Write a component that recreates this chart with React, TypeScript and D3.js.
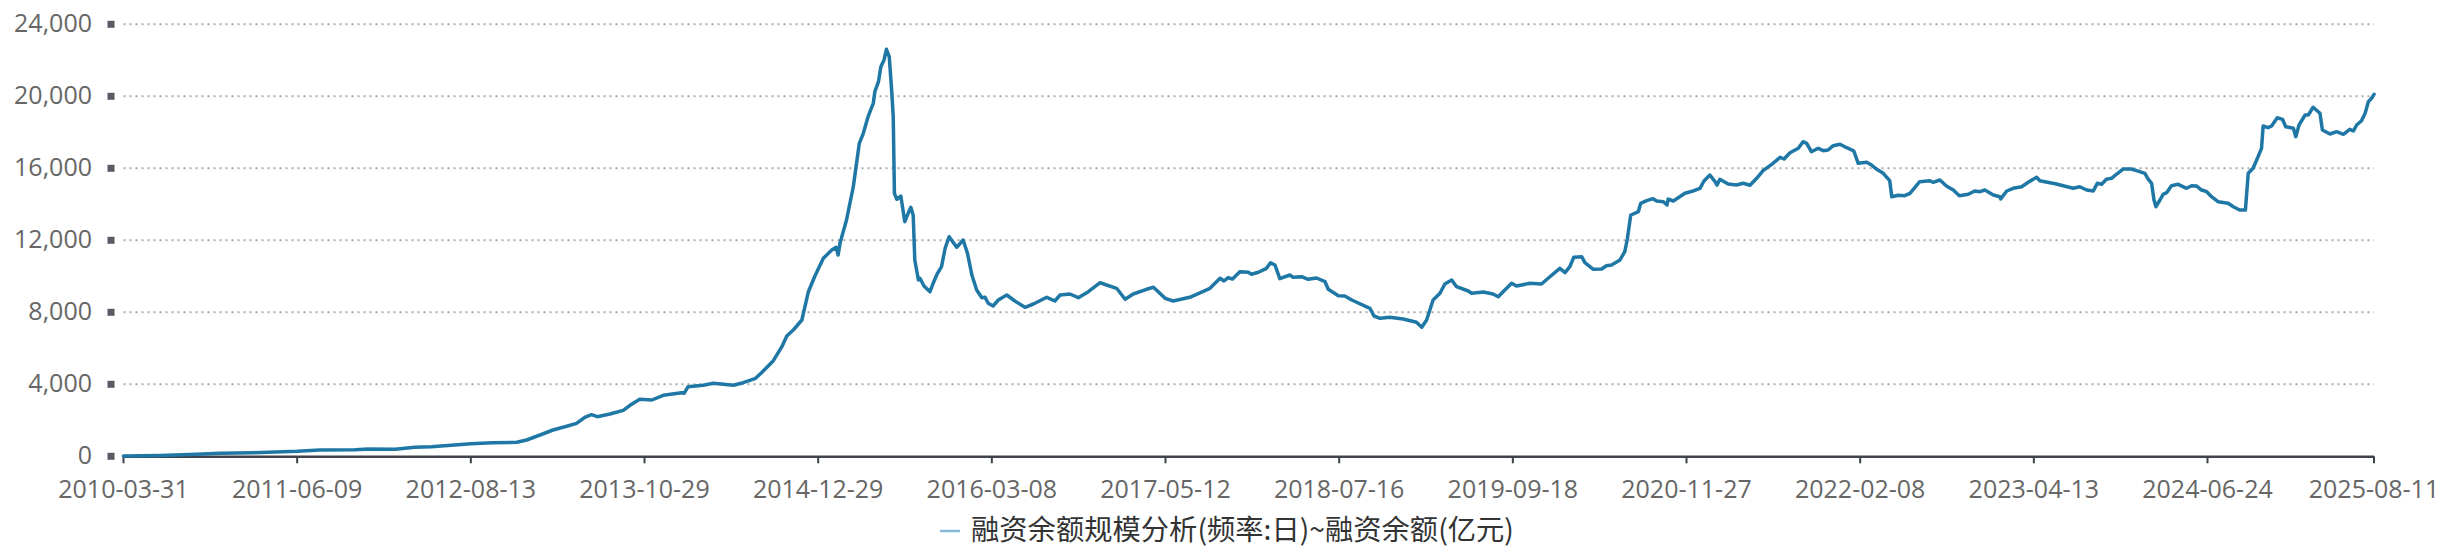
import React from 'react';
import * as d3 from 'd3';

const tickLabels = [
  '2010-03-31', '2011-06-09', '2012-08-13', '2013-10-29', '2014-12-29', '2016-03-08', '2017-05-12',
  '2018-07-16', '2019-09-18', '2020-11-27', '2022-02-08', '2023-04-13', '2024-06-24', '2025-08-11',
];
// trading-day index of each labelled category
const tickTradingIndex = [0, 290, 580, 870, 1160, 1450, 1740, 2030, 2320, 2610, 2900, 3190, 3480, 3758];
const yTickValues = [0, 4000, 8000, 12000, 16000, 20000, 24000];
const seriesName = '融资余额规模分析(频率:日)~融资余额(亿元)';

const financingBalance: [string, number][] = [
  ['2010-03-31', 10], ['2010-06-30', 50], ['2010-09-30', 110], ['2010-11-28', 165], ['2011-02-18', 200],
  ['2011-06-09', 277], ['2011-08-05', 350], ['2011-10-31', 367], ['2011-12-03', 405], ['2012-02-07', 388],
  ['2012-03-27', 500], ['2012-05-07', 533], ['2012-07-12', 644], ['2012-08-13', 700], ['2012-10-08', 756],
  ['2012-12-08', 778], ['2013-01-02', 905], ['2013-02-05', 1183], ['2013-03-10', 1461], ['2013-04-14', 1667],
  ['2013-05-09', 1833], ['2013-05-30', 2167], ['2013-06-16', 2311], ['2013-07-01', 2200], ['2013-08-02', 2350],
  ['2013-09-05', 2550], ['2013-09-22', 2833], ['2013-10-17', 3167], ['2013-11-16', 3128], ['2013-12-14', 3389],
  ['2014-01-28', 3533], ['2014-02-03', 3500], ['2014-02-13', 3867], ['2014-03-22', 3944], ['2014-04-16', 4056],
  ['2014-06-04', 3944], ['2014-06-28', 4089], ['2014-07-27', 4311], ['2014-08-12', 4644], ['2014-09-10', 5311],
  ['2014-10-01', 6089], ['2014-10-13', 6683], ['2014-10-29', 7017], ['2014-11-19', 7572], ['2014-12-05', 9144],
  ['2014-12-21', 10017], ['2015-01-11', 11000], ['2015-02-01', 11461], ['2015-02-12', 11611], ['2015-02-17', 11183],
  ['2015-02-22', 11867], ['2015-03-10', 13128], ['2015-03-27', 14978], ['2015-04-11', 17389], ['2015-04-21', 17944],
  ['2015-05-03', 18867], ['2015-05-16', 19611], ['2015-05-20', 20256], ['2015-05-29', 20811], ['2015-06-04', 21644],
  ['2015-06-12', 22017], ['2015-06-18', 22611], ['2015-06-25', 22200], ['2015-07-01', 20350], ['2015-07-05', 18867],
  ['2015-07-08', 14611], ['2015-07-14', 14278], ['2015-07-24', 14461], ['2015-08-03', 13033], ['2015-08-12', 13533],
  ['2015-08-18', 13833], ['2015-08-24', 13406], ['2015-08-28', 10906], ['2015-09-06', 9794], ['2015-09-10', 9889],
  ['2015-09-20', 9461], ['2015-10-05', 9144], ['2015-10-13', 9611], ['2015-10-23', 10128], ['2015-11-03', 10533],
  ['2015-11-12', 11556], ['2015-11-22', 12200], ['2015-12-11', 11611], ['2015-12-27', 12017], ['2016-01-07', 11278],
  ['2016-01-18', 10072], ['2016-01-30', 9239], ['2016-02-12', 8811], ['2016-02-20', 8833], ['2016-02-28', 8500],
  ['2016-03-11', 8350], ['2016-03-24', 8683], ['2016-04-14', 8961], ['2016-05-04', 8628], ['2016-05-29', 8278],
  ['2016-06-19', 8461], ['2016-07-22', 8833], ['2016-08-11', 8628], ['2016-08-24', 8961], ['2016-09-17', 9017],
  ['2016-10-08', 8811], ['2016-11-02', 9144], ['2016-12-01', 9644], ['2016-12-17', 9517], ['2017-01-11', 9333],
  ['2017-02-01', 8722], ['2017-02-21', 9017], ['2017-03-26', 9278], ['2017-04-12', 9389], ['2017-04-24', 9144],
  ['2017-05-11', 8778], ['2017-05-31', 8628], ['2017-07-11', 8833], ['2017-07-28', 9000], ['2017-08-30', 9333],
  ['2017-09-24', 9889], ['2017-10-04', 9739], ['2017-10-14', 9922], ['2017-10-25', 9850], ['2017-11-12', 10256],
  ['2017-12-03', 10222], ['2017-12-11', 10111], ['2017-12-28', 10222], ['2018-01-17', 10444], ['2018-01-27', 10756],
  ['2018-02-07', 10628], ['2018-02-19', 9867], ['2018-03-16', 10072], ['2018-03-24', 9944], ['2018-04-14', 9978],
  ['2018-04-30', 9833], ['2018-05-21', 9906], ['2018-06-11', 9700], ['2018-06-19', 9278], ['2018-07-14', 8922],
  ['2018-07-30', 8906], ['2018-08-16', 8683], ['2018-09-30', 8222], ['2018-10-10', 7794], ['2018-10-25', 7667],
  ['2018-11-18', 7722], ['2018-12-21', 7628], ['2019-01-23', 7444], ['2019-02-05', 7167], ['2019-02-17', 7572],
  ['2019-03-05', 8683], ['2019-03-22', 9056], ['2019-04-03', 9572], ['2019-04-20', 9794], ['2019-05-02', 9422],
  ['2019-05-31', 9183], ['2019-06-08', 9056], ['2019-07-07', 9128], ['2019-07-31', 9017], ['2019-08-13', 8867],
  ['2019-08-25', 9144], ['2019-09-15', 9611], ['2019-09-27', 9461], ['2019-10-31', 9611], ['2019-11-29', 9572],
  ['2019-12-20', 9978], ['2020-01-14', 10444], ['2020-01-27', 10200], ['2020-02-08', 10533], ['2020-02-18', 11056],
  ['2020-03-09', 11089], ['2020-03-17', 10756], ['2020-04-07', 10389], ['2020-04-28', 10406], ['2020-05-10', 10589],
  ['2020-05-23', 10628], ['2020-06-13', 10906], ['2020-06-25', 11367], ['2020-07-01', 12017], ['2020-07-10', 13406],
  ['2020-07-20', 13500], ['2020-07-29', 13589], ['2020-08-04', 14056], ['2020-08-19', 14200], ['2020-09-04', 14311],
  ['2020-09-13', 14183], ['2020-09-30', 14144], ['2020-10-09', 13961], ['2020-10-12', 14294], ['2020-10-25', 14183],
  ['2020-11-23', 14611], ['2020-12-14', 14739], ['2020-12-31', 14889], ['2021-01-10', 15294], ['2021-01-25', 15628],
  ['2021-02-07', 15256], ['2021-02-12', 15072], ['2021-02-19', 15389], ['2021-03-12', 15128], ['2021-04-02', 15072],
  ['2021-04-19', 15167], ['2021-05-06', 15056], ['2021-05-23', 15444], ['2021-06-08', 15867], ['2021-06-30', 16222],
  ['2021-07-21', 16611], ['2021-07-31', 16517], ['2021-08-15', 16867], ['2021-09-05', 17111], ['2021-09-17', 17478],
  ['2021-09-26', 17389], ['2021-10-08', 16922], ['2021-10-25', 17111], ['2021-11-07', 16978], ['2021-11-19', 17017],
  ['2021-12-02', 17256], ['2021-12-19', 17333], ['2022-01-05', 17144], ['2022-01-23', 16961], ['2022-02-03', 16278],
  ['2022-02-24', 16333], ['2022-03-08', 16183], ['2022-03-21', 15944], ['2022-04-06', 15722], ['2022-04-22', 15311],
  ['2022-04-27', 14422], ['2022-05-13', 14500], ['2022-05-29', 14478], ['2022-06-11', 14611], ['2022-07-05', 15256],
  ['2022-07-30', 15311], ['2022-08-07', 15222], ['2022-08-24', 15350], ['2022-09-09', 15017], ['2022-09-26', 14794],
  ['2022-10-11', 14478], ['2022-11-02', 14556], ['2022-11-18', 14739], ['2022-12-01', 14700], ['2022-12-13', 14794],
  ['2023-01-03', 14517], ['2023-01-19', 14422], ['2023-01-21', 14294], ['2023-02-05', 14739], ['2023-02-21', 14889],
  ['2023-03-14', 14978], ['2023-03-30', 15222], ['2023-04-20', 15500], ['2023-04-28', 15311], ['2023-06-09', 15128],
  ['2023-06-26', 15033], ['2023-07-21', 14889], ['2023-08-07', 14978], ['2023-08-24', 14794], ['2023-09-10', 14739],
  ['2023-09-20', 15167], ['2023-10-01', 15111], ['2023-10-13', 15389], ['2023-10-26', 15444], ['2023-11-08', 15683],
  ['2023-11-24', 15961], ['2023-12-15', 15961], ['2023-12-28', 15867], ['2024-01-18', 15722], ['2024-01-26', 15406],
  ['2024-02-04', 15167], ['2024-02-10', 14239], ['2024-02-15', 13867], ['2024-02-25', 14239], ['2024-03-04', 14556],
  ['2024-03-13', 14644], ['2024-03-25', 15033], ['2024-04-11', 15111], ['2024-05-02', 14889], ['2024-05-15', 15033],
  ['2024-05-27', 15017], ['2024-06-09', 14794], ['2024-06-22', 14700], ['2024-07-04', 14422], ['2024-07-20', 14144],
  ['2024-08-14', 14056], ['2024-08-27', 13867], ['2024-09-12', 13683], ['2024-09-26', 13683], ['2024-10-03', 15722],
  ['2024-10-15', 16000], ['2024-10-24', 16461], ['2024-11-05', 17111], ['2024-11-09', 18350], ['2024-11-21', 18256],
  ['2024-11-30', 18350], ['2024-12-14', 18811], ['2024-12-27', 18722], ['2025-01-04', 18311], ['2025-01-23', 18222],
  ['2025-01-29', 17756], ['2025-02-06', 18406], ['2025-02-21', 18961], ['2025-03-01', 18961], ['2025-03-13', 19389],
  ['2025-03-30', 19056], ['2025-04-05', 18128], ['2025-04-24', 17906], ['2025-05-10', 18033], ['2025-05-27', 17889],
  ['2025-06-12', 18167], ['2025-06-21', 18072], ['2025-06-29', 18406], ['2025-07-11', 18644], ['2025-07-20', 19056],
  ['2025-07-28', 19700], ['2025-08-05', 19889], ['2025-08-11', 20111],
];

const W = 2462;
const H = 560;
const M = { left: 123.5, right: 2374, top: 24.3, bottom: 456.3 };
const AXIS_FONT = "'Open Sans', 'DejaVu Sans', sans-serif";
const CJK_FONT = "'Noto Sans CJK SC', 'Noto Sans', sans-serif";

export default function App() {
  const parse = d3.timeParse('%Y-%m-%d');
  const indexScale = d3
    .scaleLinear()
    .domain([0, tickTradingIndex[tickTradingIndex.length - 1]])
    .range([M.left, M.right]);
  const tickDates = tickLabels.map((t) => parse(t) as Date);
  const x = d3
    .scaleTime()
    .domain(tickDates)
    .range(tickTradingIndex.map((i) => indexScale(i)));
  const y = d3.scaleLinear().domain([0, 24000]).range([M.bottom, M.top]);
  const fmt = d3.format(',');

  const line = d3
    .line<[string, number]>()
    .x((d) => x(parse(d[0]) as Date))
    .y((d) => y(d[1]));

  return (
    <svg
      width={W}
      height={H}
      style={{ position: 'absolute', left: 0, top: 0, background: '#fff' }}
    >
      {/* grid lines */}
      {yTickValues
        .filter((v) => v > 0)
        .map((v) => (
          <line
            key={'g' + v}
            x1={M.left}
            x2={M.right}
            y1={y(v)}
            y2={y(v)}
            stroke="#aaaaaa"
            strokeWidth={2}
            strokeDasharray="2 4"
          />
        ))}
      {/* y labels and square markers */}
      {yTickValues.map((v) => (
        <g key={'y' + v}>
          <rect x={107.5} y={y(v) - 3.5} width={7} height={7} fill="#565b64" />
          <text
            x={92}
            y={y(v) + 7.5}
            textAnchor="end"
            fontFamily={AXIS_FONT}
            fontSize={25}
            fill="#666"
          >
            {fmt(v)}
          </text>
        </g>
      ))}
      {/* x axis */}
      <line x1={M.left} x2={M.right} y1={M.bottom + 0.4} y2={M.bottom + 0.4} stroke="#3e424a" strokeWidth={2.6} />
      {tickLabels.map((t, i) => {
        const px = x(tickDates[i]);
        return (
          <g key={'x' + t}>
            <line x1={px} x2={px} y1={M.bottom} y2={M.bottom + 7} stroke="#3e424a" strokeWidth={2} />
            <text
              x={px}
              y={498}
              textAnchor="middle"
              fontFamily={AXIS_FONT}
              fontSize={25}
              fill="#666"
            >
              {t}
            </text>
          </g>
        );
      })}
      {/* series */}
      <path
        d={line(financingBalance) || ''}
        fill="none"
        stroke="#1f77a5"
        strokeWidth={3.5}
        strokeLinejoin="round"
        strokeLinecap="round"
      />
      {/* legend */}
      <line x1={940} x2={960} y1={531} y2={531} stroke="#88bbd6" strokeWidth={2.5} />
      <text x={971} y={540} fontFamily={CJK_FONT} fontSize={28.3} fill="#333">
        {seriesName}
      </text>
    </svg>
  );
}
